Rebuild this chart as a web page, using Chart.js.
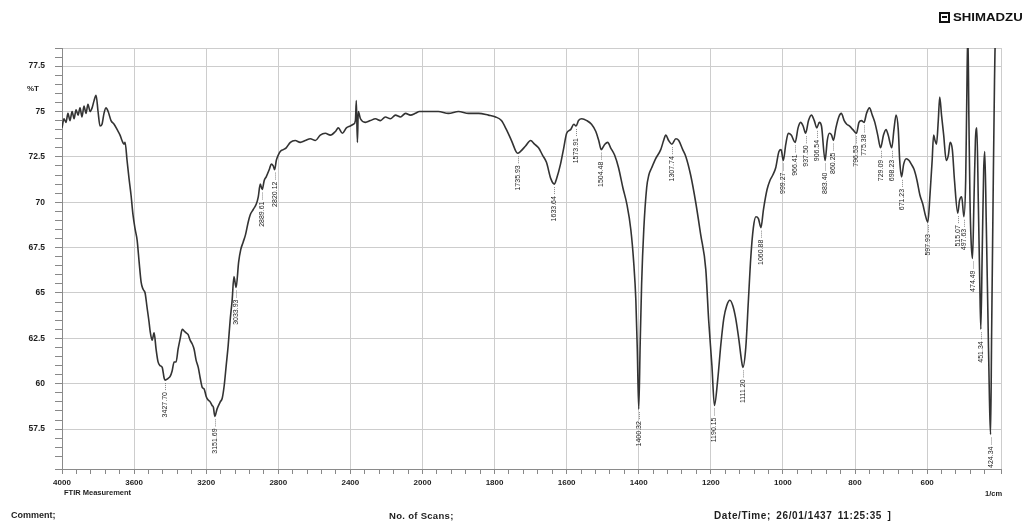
<!DOCTYPE html>
<html><head><meta charset="utf-8">
<script src="https://cdn.jsdelivr.net/npm/chart.js@4.4.1/dist/chart.umd.min.js"></script>
<style>
html,body{margin:0;padding:0;background:#fff;}
#wrap{position:relative;width:1027px;height:527px;overflow:hidden;font-family:"Liberation Sans",Arial,sans-serif;}
canvas{position:absolute;left:0;top:0;}
.t{position:absolute;font-weight:bold;color:#1e1e1e;white-space:nowrap;line-height:1;}
</style></head><body>
<div id="wrap">
<canvas id="c" width="1027" height="527"></canvas>
<div class="t" style="left:27px;top:85px;font-size:8px;">%T</div>
<div style="position:absolute;left:939px;top:12px;width:7px;height:7px;border:2px solid #111;"><div style="position:absolute;left:1px;top:2px;width:5px;height:2px;background:#111;"></div></div>
<div class="t" style="left:953px;top:12px;font-size:11px;transform:scaleX(1.2);transform-origin:left top;color:#111;">SHIMADZU</div>
<div class="t" style="left:64px;top:489px;font-size:7.5px;">FTIR Measurement</div>
<div class="t" style="left:985px;top:490px;font-size:7.5px;">1/cm</div>
<div class="t" style="left:11px;top:511px;font-size:9px;">Comment;</div>
<div class="t" style="left:389px;top:511px;font-size:9.5px;letter-spacing:0.3px;">No. of Scans;</div>
<div class="t" style="left:714px;top:511px;font-size:10px;letter-spacing:0.6px;word-spacing:2px;">Date/Time; 26/01/1437 11:25:35 ]</div>
</div>
<script>
// ---- data (wavenumber in 1/cm, transmittance in %T) ----
const wavenumbers = [
4000,3989,3978,3967,3956,3944,3933,3922,3911,3900,3889,3878,3867,3856,3844,3833,3822,3811,3800,3789,
3778,3767,3756,3744,3728,3711,3694,3678,3667,3656,3650,3639,3628,3617,3606,3594,3583,3572,3561,3550,
3539,3528,3517,3511,3500,3489,3478,3467,3456,3444,3433,3428,3411,3400,3389,3378,3367,3356,3344,3333,
3322,3311,3300,3289,3278,3267,3256,3244,3233,3222,3211,3200,3189,3178,3167,3160,3152,3140,3122,3111,
3100,3089,3078,3067,3056,3046,3034,3020,3008,2995,2982,2967,2956,2939,2922,2911,2900,2889,2878,2867,
2850,2839,2828,2820,2811,2800,2789,2772,2756,2733,2706,2678,2650,2622,2594,2567,2539,2511,2483,2467,
2444,2422,2400,2383,2372,2367,2361,2356,2344,2317,2289,2261,2233,2206,2178,2150,2122,2094,2067,2039,
2017,2000,1983,1956,1928,1900,1872,1844,1817,1797,1781,1767,1753,1736,1728,1714,1700,1689,1678,1667,
1656,1644,1634,1628,1617,1608,1600,1589,1580,1574,1567,1558,1544,1531,1519,1511,1504,1494,1486,1478,
1467,1456,1444,1433,1422,1414,1408,1404,1400,1396,1392,1386,1378,1372,1364,1353,1339,1331,1325,1317,
1308,1297,1289,1278,1269,1256,1242,1228,1214,1206,1197,1190,1181,1172,1164,1156,1147,1139,1131,1122,
1115,1111,1103,1096,1089,1082,1075,1068,1061,1054,1044,1036,1028,1020,1011,1005,999,992,985,977,
966,958,951,944,937,929,921,913,906,899,893,883,877,871,865,860,853,845,838,830,
823,815,806,796,789,782,775,768,760,752,745,737,729,721,714,708,698,692,686,680,
676,671,665,658,650,644,636,628,620,612,605,598,592,586,582,578,574,569,565,560,
554,547,541,536,530,524,515,510,504,498,493,490,487,484,481,478,474,470,466,462,
458,454,451,447,443,440,436,431,427,424,421,417,413,410,400,395
];
const transmittance = [
74.1,74.6,74.4,74.9,74.5,75.0,74.6,75.1,74.8,75.2,74.7,75.3,74.9,75.4,75.0,75.2,75.6,75.9,75.0,74.2,
74.3,74.9,75.2,75.0,74.5,74.3,74.0,73.7,73.4,73.2,73.3,72.3,71.3,70.4,69.3,68.5,67.9,66.7,65.6,65.2,
65.0,64.2,63.4,62.9,62.4,62.8,61.9,61.2,61.0,60.9,60.3,60.2,60.3,60.4,60.7,61.2,61.2,61.9,62.5,63.0,
62.9,62.8,62.7,62.4,62.2,61.9,61.3,60.9,60.3,59.8,59.7,59.3,59.1,59.0,58.8,58.7,58.2,58.6,59.0,59.2,
59.9,61.0,62.1,63.5,64.6,65.9,65.3,66.7,67.4,67.8,68.2,68.9,69.3,69.6,69.9,70.3,71.0,70.7,71.2,71.4,
71.8,72.1,72.0,71.8,72.3,72.6,72.8,72.9,73.0,73.3,73.4,73.3,73.4,73.5,73.4,73.7,73.8,73.7,73.9,74.1,
73.8,74.1,74.2,74.3,74.5,75.6,73.3,75.0,74.6,74.4,74.5,74.6,74.5,74.7,74.6,74.8,74.7,74.9,74.8,74.9,
75.0,75.0,75.0,75.0,74.9,75.0,74.9,74.9,74.8,74.7,74.5,74.0,73.4,72.7,72.8,73.1,73.4,73.2,73.0,72.6,
72.2,71.3,71.0,71.3,72.1,73.0,73.8,74.0,74.3,74.2,74.5,74.6,74.5,74.3,73.9,73.4,72.9,73.2,73.3,73.0,
72.6,71.9,70.8,69.9,68.5,66.7,64.6,61.9,58.6,62.2,65.5,68.5,70.8,71.5,71.9,72.4,72.9,73.4,73.7,73.4,
73.2,73.5,73.4,72.9,72.5,71.5,70.0,68.2,66.3,63.5,61.0,58.8,60.2,62.2,63.6,64.3,64.6,64.3,63.6,62.4,
61.3,60.9,62.0,64.5,67.0,68.6,69.2,69.1,68.6,69.6,70.7,71.2,71.5,71.9,72.8,72.9,72.3,73.2,73.8,73.7,
73.3,74.1,74.4,74.2,73.8,74.5,74.8,74.5,74.1,74.4,74.2,72.3,73.4,73.8,73.7,73.4,74.1,74.7,74.9,74.5,
74.3,74.2,74.0,73.8,74.4,74.5,74.4,74.9,75.2,74.8,74.4,73.7,73.0,73.7,74.0,73.7,73.0,74.0,74.8,74.0,
72.3,71.4,72.1,72.4,72.3,72.1,71.8,71.2,70.4,69.9,69.3,68.9,70.4,72.3,73.7,73.4,73.2,74.5,75.8,74.8,
73.7,72.3,72.6,73.3,72.9,71.2,69.4,70.1,70.3,69.2,71.2,75.6,79.5,74.5,70.1,67.9,66.9,70.1,73.4,74.1,
70.1,65.7,63.0,67.4,71.8,72.8,69.0,63.5,59.1,57.2,62.8,70.1,76.7,79.5,80.0,80.0
];
// axis ticks
const xTickWavenumbers = [4000,3600,3200,2800,2400,2000,1800,1600,1400,1200,1000,800,600];
const xTickLabels = ['4000','3600','3200','2800','2400','2000','1800','1600','1400','1200','1000','800','600'];
const yTickValues = [57.5,60,62.5,65,67.5,70,72.5,75,77.5];
const yTickLabels = ['57.5','60','62.5','65','67.5','70','72.5','75','77.5'];
// peak annotations
const peakWavenumbers = [3428,3152,3034,2889,2820,1736,1634,1574,1504,1400,1308,1190,1111,1061,999,966,937,906,883,860,796,775,729,698,671,598,515,498,474,451,424];
const peakTransmittance = [60.2,58.2,65.3,70.7,71.8,72.7,71.0,74.2,72.9,58.6,73.2,58.8,60.9,68.6,72.3,73.3,73.8,74.1,72.3,73.4,73.8,74.4,73.0,73.0,71.4,68.9,69.4,69.2,66.9,63.0,57.2];
const peakLabels = ['3427.70','3151.69','3033.93','2889.61','2820.12','1735.93','1633.64','1573.91','1504.48','1400.32','1307.74','1190.15','1111.20','1060.88','999.27','966.41','937.50','906.54','883.40','860.25','796.53','775.38','729.09','698.23','671.23','597.93','515.07','497.63','474.49','451.34','424.34'];

// Shimadzu style split abscissa: 4000-2000 at 400/div, 2000-400 at 200/div
function toU(wn){ return wn >= 2000 ? (4000 - wn) / 400 : 5 + (2000 - wn) / 200; }
function fromU(u){ return u <= 5 ? 4000 - u * 400 : 2000 - (u - 5) * 200; }

const X_MIN = 0, X_MAX = toU(395), Y_MIN = 55.3, Y_MAX = 78.5;
const isInt = v => Math.abs(v - Math.round(v)) < 1e-6;
const isMajorY = v => Math.abs(v / 2.5 - Math.round(v / 2.5)) < 1e-6;

const points = wavenumbers.map((w, i) => ({ x: toU(w), y: transmittance[i] }));

const peakPlugin = {
  id: 'peaks',
  afterDatasetsDraw(chart) {
    const { ctx, scales: { x, y } } = chart;
    ctx.save();
    ctx.font = '7px "Liberation Sans", Arial, sans-serif';
    ctx.fillStyle = '#222';
    ctx.strokeStyle = '#555';
    ctx.lineWidth = 0.7;
    peakWavenumbers.forEach((wn, i) => {
      const px = Math.round(x.getPixelForValue(toU(wn))) + 0.5;
      const py = y.getPixelForValue(peakTransmittance[i]);
      ctx.setLineDash([1, 1]);
      ctx.beginPath(); ctx.moveTo(px, py + 3); ctx.lineTo(px, py + 11); ctx.stroke();
      ctx.setLineDash([]);
      ctx.save();
      ctx.translate(px, py + 12);
      ctx.rotate(-Math.PI / 2);
      ctx.textAlign = 'right';
      ctx.textBaseline = 'middle';
      ctx.fillText(peakLabels[i], 0, 0);
      ctx.restore();
    });
    ctx.restore();
  }
};

new Chart(document.getElementById('c'), {
  type: 'line',
  data: { datasets: [{ data: points, borderColor: '#333333', borderWidth: 1.6, pointRadius: 0, cubicInterpolationMode: 'monotone', fill: false }] },
  options: {
    responsive: false, animation: false, devicePixelRatio: 1,
    layout: { padding: { left: 0, top: 48, right: 26, bottom: 38 } },
    plugins: { legend: { display: false }, tooltip: { enabled: false } },
    scales: {
      x: {
        type: 'linear', min: X_MIN, max: X_MAX,
        afterFit: s => { s.height = 20; },
        ticks: {
          stepSize: 0.2, autoSkip: false, maxRotation: 0, padding: 4,
          color: '#1e1e1e', font: { family: '"Liberation Sans", Arial, sans-serif', size: 8, weight: 'bold' },
          callback: v => { if (!isInt(v)) return ''; const i = xTickWavenumbers.indexOf(fromU(Math.round(v))); return i >= 0 ? xTickLabels[i] : ''; }
        },
        grid: {
          color: c => (c.tick && (isInt(c.tick.value) || Math.abs(c.tick.value - X_MAX) < 1e-6)) ? '#cdcdcd' : 'rgba(0,0,0,0)',
          tickColor: '#888', tickLength: 5, lineWidth: 1
        },
        border: { color: '#8a8a8a', width: 1 }
      },
      y: {
        min: Y_MIN, max: Y_MAX,
        afterFit: s => { s.width = 62; },
        ticks: {
          stepSize: 0.5, autoSkip: false, padding: 10,
          color: '#1e1e1e', font: { family: '"Liberation Sans", Arial, sans-serif', size: 8.5, weight: 'bold' },
          callback: v => { const i = yTickValues.findIndex(t => Math.abs(t - v) < 1e-6); return i >= 0 ? yTickLabels[i] : ''; }
        },
        grid: {
          color: c => (c.tick && (isMajorY(c.tick.value) || Math.abs(c.tick.value - Y_MAX) < 1e-6)) ? '#cdcdcd' : 'rgba(0,0,0,0)',
          tickColor: '#888', tickLength: 7, lineWidth: 1
        },
        border: { color: '#8a8a8a', width: 1 }
      }
    }
  },
  plugins: [peakPlugin]
});
</script>
</body></html>
